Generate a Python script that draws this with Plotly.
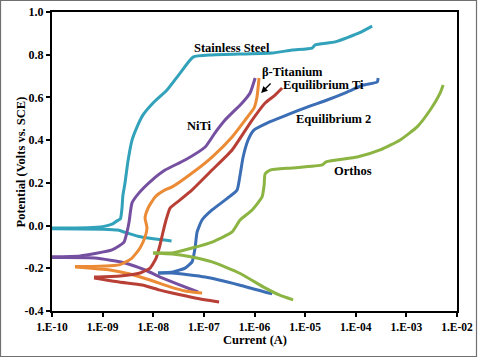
import plotly.graph_objects as go

# ---------------- data (current in A, potential in V vs SCE) ----------------
ss_anodic_i = [1.0e-10, 5.0e-10, 1.0e-9, 1.58e-9, 1.93e-9, 2.24e-9, 2.41e-9, 2.51e-9, 2.77e-9,
               3.16e-9, 3.81e-9, 4.79e-9, 6.28e-9, 9.9e-9, 1.87e-8, 3.39e-8, 6.12e-8,
               1.45e-7, 2.23e-6, 5.53e-6, 1.37e-5, 1.58e-5, 3.92e-5, 1.17e-4, 2.11e-4]
ss_anodic_v = [-0.011, -0.010, -0.005, 0.008, 0.022, 0.031, 0.08, 0.14, 0.20,
               0.30, 0.40, 0.462, 0.518, 0.574, 0.635, 0.714, 0.789,
               0.799, 0.808, 0.822, 0.831, 0.846, 0.860, 0.902, 0.934]
ss_cathodic_i = [1.0e-10, 1.0e-9, 2.0e-9, 2.8e-9, 5.0e-9, 1.0e-8, 2.3e-8]
ss_cathodic_v = [-0.015, -0.017, -0.021, -0.032, -0.050, -0.062, -0.072]

niti_anodic_i = [1.0e-10, 3.57e-10, 1.53e-9, 2.65e-9, 3.03e-9, 3.33e-9, 3.81e-9, 5.24e-9,
                 9.46e-9, 1.71e-8, 4.25e-8, 1.06e-7, 1.66e-7, 2.62e-7, 5.69e-7, 8.18e-7, 1.03e-6]
niti_anodic_v = [-0.146, -0.142, -0.114, -0.077, -0.030, 0.017, 0.106, 0.153,
                 0.213, 0.260, 0.307, 0.368, 0.434, 0.494, 0.574, 0.621, 0.691]
niti_cathodic_i = [1.0e-10, 7.08e-10, 2.77e-9, 6.89e-9, 1.49e-8, 2.95e-8, 7.67e-8]
niti_cathodic_v = [-0.150, -0.152, -0.175, -0.208, -0.245, -0.273, -0.311]

bti_anodic_i = [2.85e-10, 2.11e-9, 3.81e-9, 5.48e-9, 6.89e-9, 7.53e-9, 6.89e-9, 7.89e-9,
                1.09e-8, 1.71e-8, 2.36e-8, 5.85e-8, 1.45e-7, 3.61e-7, 6.52e-7, 9.82e-7,
                1.12e-6, 1.23e-6]
bti_anodic_v = [-0.192, -0.184, -0.152, -0.105, -0.053, -0.011, 0.036, 0.082,
                0.134, 0.167, 0.181, 0.246, 0.321, 0.415, 0.494, 0.551,
                0.602, 0.691]
bti_cathodic_i = [2.85e-10, 1.40e-9, 3.48e-9, 8.65e-9, 2.15e-8, 4.25e-8, 9.2e-8]
bti_cathodic_v = [-0.194, -0.208, -0.227, -0.255, -0.287, -0.306, -0.316]

eqti_anodic_i = [6.76e-10, 2.21e-9, 5.48e-9, 8.65e-9, 1.14e-8, 1.36e-8, 1.56e-8, 1.79e-8,
                 2.15e-8, 3.39e-8, 5.85e-8, 1.45e-7, 3.61e-7, 8.97e-7, 1.62e-6, 2.55e-6, 3.51e-6]
eqti_anodic_v = [-0.241, -0.236, -0.222, -0.199, -0.152, -0.091, -0.030, 0.026,
                 0.082, 0.120, 0.167, 0.260, 0.354, 0.494, 0.574, 0.611, 0.644]
eqti_cathodic_i = [6.76e-10, 2.11e-9, 6.01e-9, 1.30e-8, 2.36e-8, 6.70e-8, 2.0e-7]
eqti_cathodic_v = [-0.245, -0.264, -0.278, -0.301, -0.316, -0.339, -0.358]

eq2_anodic_i = [1.24e-8, 2.46e-8, 4.25e-8, 5.85e-8, 6.70e-8, 7.35e-8, 9.2e-8, 1.45e-7,
                3.15e-7, 4.53e-7, 5.19e-7, 5.96e-7, 7.48e-7, 9.82e-7, 1.77e-6, 4.41e-6,
                1.10e-5, 2.72e-5, 6.76e-5, 1.40e-4, 2.65e-4, 2.77e-4]
eq2_anodic_v = [-0.222, -0.217, -0.199, -0.170, -0.105, -0.030, 0.026, 0.073,
                0.134, 0.167, 0.237, 0.321, 0.401, 0.448, 0.480, 0.518,
                0.555, 0.588, 0.625, 0.658, 0.672, 0.691]
eq2_cathodic_i = [1.24e-8, 2.36e-8, 1.06e-7, 4.97e-7, 2.23e-6]
eq2_cathodic_v = [-0.222, -0.222, -0.241, -0.278, -0.320]

orthos_anodic_i = [9.9e-9, 2.36e-8, 5.85e-8, 1.45e-7, 3.61e-7, 5.19e-7, 8.97e-7, 1.41e-6,
                   1.55e-6, 1.62e-6, 2.03e-6, 5.53e-6, 2.17e-5, 2.60e-5, 1.07e-4, 3.03e-4,
                   7.53e-4, 1.63e-3, 2.95e-3, 4.66e-3, 5.33e-3]
orthos_anodic_v = [-0.128, -0.128, -0.105, -0.077, -0.030, 0.026, 0.073, 0.134,
                   0.190, 0.242, 0.260, 0.270, 0.284, 0.298, 0.321, 0.354,
                   0.401, 0.462, 0.541, 0.621, 0.658]
orthos_cathodic_i = [9.9e-9, 2.36e-8, 5.85e-8, 1.45e-7, 4.97e-7, 1.62e-6, 3.06e-6, 5.79e-6]
orthos_cathodic_v = [-0.128, -0.133, -0.147, -0.170, -0.222, -0.292, -0.325, -0.348]

x_tick_vals = [1e-10, 1e-9, 1e-8, 1e-7, 1e-6, 1e-5, 1e-4, 1e-3, 1e-2]
x_tick_text = ["1.E-10", "1.E-09", "1.E-08", "1.E-07", "1.E-06", "1.E-05", "1.E-04", "1.E-03", "1.E-02"]
y_tick_vals = [-0.4, -0.2, 0.0, 0.2, 0.4, 0.6, 0.8, 1.0]
y_tick_text = ["-0.4", "-0.2", "0.0", "0.2", "0.4", "0.6", "0.8", "1.0"]

series = [
    ("Stainless Steel", "#31A2BA", ss_anodic_i, ss_anodic_v, ss_cathodic_i, ss_cathodic_v),
    ("NiTi", "#7650A0", niti_anodic_i, niti_anodic_v, niti_cathodic_i, niti_cathodic_v),
    ("β-Titanium", "#EB8B36", bti_anodic_i, bti_anodic_v, bti_cathodic_i, bti_cathodic_v),
    ("Equilibrium Ti", "#B83F36", eqti_anodic_i, eqti_anodic_v, eqti_cathodic_i, eqti_cathodic_v),
    ("Equilibrium 2", "#3B6EB5", eq2_anodic_i, eq2_anodic_v, eq2_cathodic_i, eq2_cathodic_v),
    ("Orthos", "#8CB443", orthos_anodic_i, orthos_anodic_v, orthos_cathodic_i, orthos_cathodic_v),
]

FONT = "Liberation Serif, Times New Roman, serif"

fig = go.Figure()
for name, color, ai, av, ci, cv in series:
    for xs, ys in ((ci, cv), (ai, av)):
        fig.add_trace(go.Scatter(
            x=xs, y=ys, mode="lines", name=name, showlegend=False,
            line=dict(color=color, width=3, shape="spline", smoothing=0.5),
            hoverinfo="skip"))

labels = [
    ("Stainless Steel", -6.443, 0.831),
    ("NiTi", -7.095, 0.466),
    ("β-Titanium", -5.257, 0.719),
    ("Equilibrium Ti", -4.644, 0.658),
    ("Equilibrium 2", -4.447, 0.499),
    ("Orthos", -4.051, 0.256),
]
for text, lx, ly in labels:
    fig.add_annotation(x=lx, y=ly, xref="x", yref="y", text=text, showarrow=False,
                       font=dict(family=FONT, size=12.5, color="black", weight="bold"))

# arrow pointing to the β-Titanium curve
fig.add_annotation(x=-5.87, y=0.621, xref="x", yref="y", text="", showarrow=True,
                   ax=11, ay=-11, axref="pixel", ayref="pixel",
                   arrowhead=2, arrowsize=1, arrowwidth=1.3, arrowcolor="black")

# axis titles
fig.add_annotation(x=-0.0988, y=0.5, xref="paper", yref="paper",
                   text="Potential (Volts vs. SCE)", textangle=-90, showarrow=False,
                   font=dict(family=FONT, size=12.5, color="black", weight="bold"))
fig.add_annotation(x=0.5, y=-0.128, xref="paper", yref="paper",
                   text="Current (A)", showarrow=False,
                   font=dict(family=FONT, size=12.5, color="black", weight="bold"))

# outer image frame
fig.add_shape(type="rect", xref="paper", yref="paper",
              x0=(0.5 - 52) / 405, x1=(476.5 - 52) / 405,
              y0=(311 - 356.5) / 299, y1=(311 - 0.5) / 299,
              line=dict(color="#707070", width=1.2), fillcolor="rgba(0,0,0,0)")

fig.update_xaxes(type="log", range=[-10, -2], tickvals=x_tick_vals, ticktext=x_tick_text,
                 automargin=False,
                 showgrid=False, zeroline=False, showline=True, linecolor="black", linewidth=2,
                 mirror=True, ticks="outside", ticklen=4, tickwidth=1.5, tickcolor="black",
                 tickfont=dict(family=FONT, size=11.5, color="black", weight="bold"))
fig.update_yaxes(range=[-0.4, 1.0], tickvals=y_tick_vals, ticktext=y_tick_text,
                 automargin=False,
                 showgrid=False, zeroline=False, showline=True, linecolor="black", linewidth=2,
                 mirror=True, ticks="outside", ticklen=4, tickwidth=1.5, tickcolor="black",
                 tickfont=dict(family=FONT, size=12, color="black", weight="bold"))

fig.update_layout(width=480, height=358, margin=dict(l=52, r=23, t=12, b=47),
                  template="none",
                  paper_bgcolor="white", plot_bgcolor="white", showlegend=False)

fig.write_html("out.html", config={"displayModeBar": False},
               post_script="document.body.style.margin='0px';document.body.style.overflow='hidden';")
